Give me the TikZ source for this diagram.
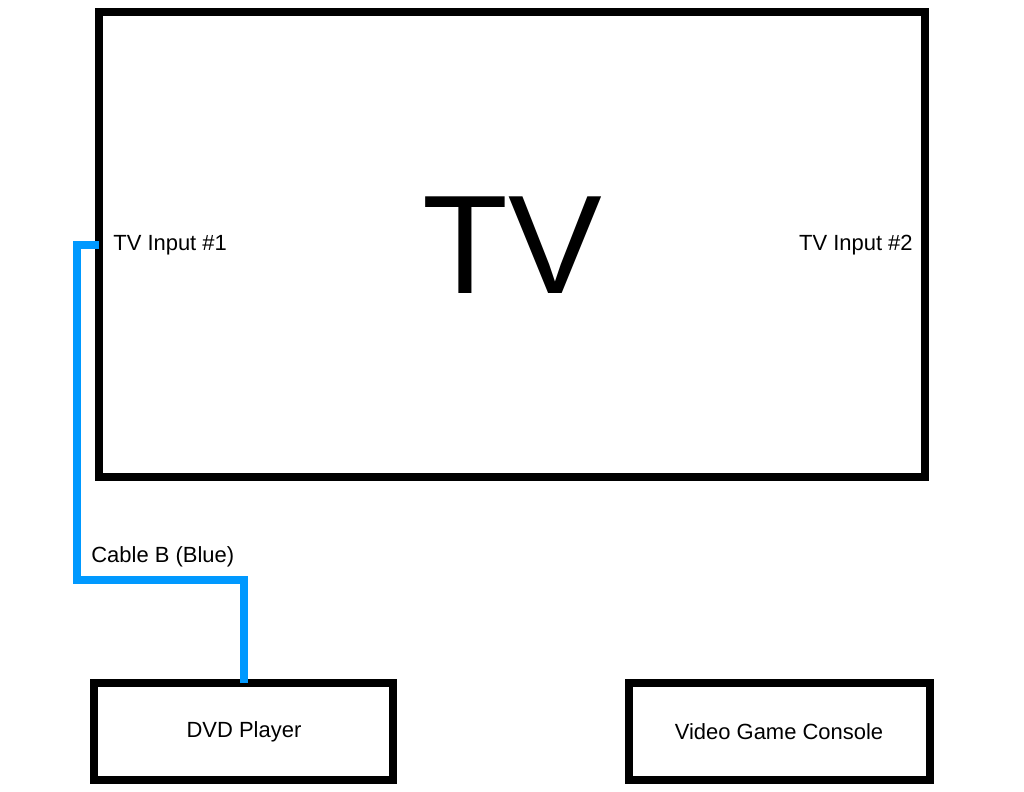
\documentclass[tikz,border=0pt]{standalone}
\usepackage{fontspec}
\setmainfont{Liberation Sans}
\begin{document}
\begin{tikzpicture}[x=0.02cm,y=-0.02cm,
  box/.style={draw=black,line width=4pt},
  lbl/.style={font=\fontsize{12.5}{14}\selectfont,inner sep=0pt},
  cable/.style={draw={rgb,255:red,0;green,153;blue,255},line width=4.5pt}]
\useasboundingbox (0,0) rectangle (1024,791);
\draw[box] (99,12) rectangle (925,477);
\node[box,draw=none,minimum width=0] (tv) at (512,245) {\fontsize{80}{80}\selectfont TV};
\node[lbl,anchor=west] (in1) at (113,245) {TV Input \#1};
\node[lbl,anchor=east] (in2) at (913,245) {TV Input \#2};
\coordinate (p1) at (99,245);
\draw[box] (94,683) rectangle (393,780);
\node[lbl] (dvd) at (244,732) {DVD Player};
\draw[box] (629,683) rectangle (930,780);
\node[lbl] (vgc) at (779,732) {Video Game Console};
\coordinate (p2) at (244,683);
\draw[cable,line join=miter] (p1) -- (77,245) -- (77,580) -- (244,580) -- (p2);
\node[lbl,anchor=west] (cb) at (91,557) {Cable B (Blue)};
\end{tikzpicture}
\end{document}
